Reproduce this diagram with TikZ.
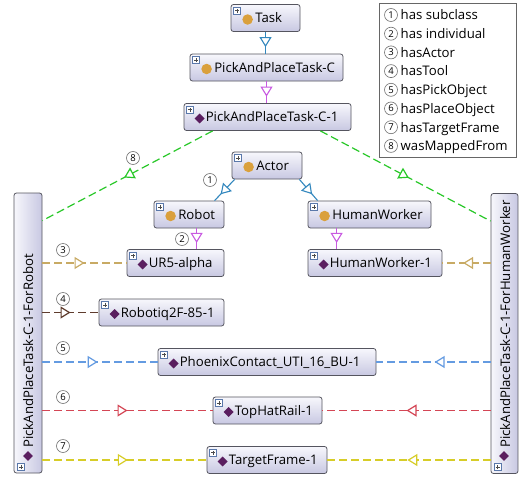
\documentclass[tikz,border=0pt]{standalone}
\usepackage{fontspec}
\setmainfont{Open Sans}
\usetikzlibrary{arrows.meta,decorations.markings,shapes.geometric}
\definecolor{boxtop}{RGB}{247,247,252}
\definecolor{boxbot}{RGB}{200,200,226}
\definecolor{boxline}{RGB}{85,85,95}
\definecolor{plusc}{RGB}{90,120,170}
\definecolor{clsc}{RGB}{218,160,60}
\definecolor{indc}{RGB}{90,30,95}
\definecolor{subc}{RGB}{50,135,190}
\definecolor{indv}{RGB}{200,90,225}
\definecolor{actc}{RGB}{200,170,100}
\definecolor{toolc}{RGB}{95,60,45}
\definecolor{pickc}{RGB}{100,155,225}
\definecolor{placec}{RGB}{212,70,85}
\definecolor{tgtc}{RGB}{215,205,40}
\definecolor{mapc}{RGB}{40,200,40}
\tikzset{
 obox/.style={rectangle, rounded corners=2.5pt, draw=boxline, line width=0.8pt, top color=boxtop, bottom color=boxbot, minimum height=27pt, inner sep=0pt},
 vbox/.style={obox, left color=boxtop, right color=boxbot, minimum width=28pt, minimum height=280pt},
 pbox/.style={rectangle, draw=plusc, fill=white, line width=0.5pt, minimum size=7pt, inner sep=0pt,
   path picture={\draw[black!70, line width=0.5pt] ([xshift=-2pt]path picture bounding box.center) -- ([xshift=2pt]path picture bounding box.center) ([yshift=-2pt]path picture bounding box.center) -- ([yshift=2pt]path picture bounding box.center);}},
 clsicon/.style={circle, fill=clsc, minimum size=10.5pt, inner sep=0pt},
 indicon/.style={diamond, fill=indc, minimum size=10pt, inner sep=0pt},
 lbl/.style={inner sep=0pt, font=\fontsize{13.2}{15}\selectfont},
 cnum/.style={circle, draw=black!55, line width=0.6pt, minimum size=13pt, inner sep=0pt, font=\fontsize{9.5}{10}\selectfont},
 Tri/.tip={Triangle[length=10pt,width=12pt,fill=white]},
 midarr/.style={postaction={decorate}, decoration={markings, mark=at position #1 with {\arrow{Tri}}}},
 sedge/.style={line width=1.1pt},
 dedge/.style={line width=1.2pt, dash pattern=on 8pt off 4pt},
}
\newcommand\clsnode[5]{%
 \node[obox, minimum width=#4pt] (#1) at (#2,#3) {};
 \node[pbox] (#1p) at ([xshift=6.5pt,yshift=-6.5pt]#1.north west) {};
 \node[clsicon] (#1i) at ([xshift=17pt,yshift=-1.5pt]#1.west) {};
 \node[lbl, anchor=base west] (#1t) at ([xshift=24.5pt,yshift=-4.8pt]#1.west) {#5};
}
\newcommand\indnode[5]{%
 \node[obox, minimum width=#4pt] (#1) at (#2,#3) {};
 \node[pbox] (#1p) at ([xshift=6.5pt,yshift=-6.5pt]#1.north west) {};
 \node[indicon] (#1i) at ([xshift=16pt,yshift=-1.5pt]#1.west) {};
 \node[lbl, anchor=base west] (#1t) at ([xshift=22pt,yshift=-4.8pt]#1.west) {#5};
}
\begin{document}
\begin{tikzpicture}[x=1pt,y=-1pt]
\fill[white] (0,0) rectangle (519,479);
\useasboundingbox (0,0) rectangle (519,479);

% nodes
\clsnode{task}{265.5}{18}{69}{Task}
\clsnode{pptc}{266.5}{67.5}{153}{PickAndPlaceTask-C}
\indnode{c1}{267.5}{117}{167}{PickAndPlaceTask-C-1}
\clsnode{actor}{267}{165.5}{70}{Actor}
\clsnode{robot}{189}{214.5}{70}{Robot}
\clsnode{hw}{369.5}{214.5}{123}{HumanWorker}
\indnode{ur5}{175.5}{263}{97}{UR5-alpha}
\indnode{hw1}{375}{263}{134}{HumanWorker-1}
\indnode{rq}{161.5}{312.5}{125}{Robotiq2F-85-1}
\indnode{px}{267}{362}{218}{PhoenixContact\_UTI\_16\_BU-1}
\indnode{th}{267.5}{410.5}{109}{TopHatRail-1}
\indnode{tf}{267}{460}{120}{TargetFrame-1}

% vertical nodes
\node[vbox] (vl) at (28,333) {};
\node[pbox] (vlp) at (21,467) {};
\node[indicon] (vli) at (28,456) {};
\node[lbl, rotate=90, anchor=base west] (vlt) at (33,448) {PickAndPlaceTask-C-1-ForRobot};
\node[vbox, minimum width=27pt] (vr) at (504.5,333.5) {};
\node[pbox] (vrp) at (497.5,467) {};
\node[indicon] (vri) at (504,456) {};
\node[lbl, rotate=90, anchor=base west] (vrt) at (510,448) {PickAndPlaceTask-C-1-ForHumanWorker};

% subclass / individual edges
\draw[sedge, subc, midarr=0.7] (task.south) -- (task.south |- pptc.north);
\draw[sedge, indv, midarr=0.7] (pptc.south) -- (pptc.south |- c1.north);
\coordinate (a1) at ([xshift=3pt]actor.south west);
\coordinate (r1) at ([xshift=61pt]robot.north west);
\draw[sedge, subc, midarr=0.7] (a1) -- (r1);
\coordinate (a2) at ([xshift=-3pt]actor.south east);
\coordinate (h1) at ([xshift=10pt]hw.north west);
\draw[sedge, subc, midarr=0.7] (a2) -- (h1);
\coordinate (r2) at ([xshift=43pt]robot.south west);
\draw[sedge, indv, midarr=0.7] (r2) -- (r2 |- ur5.north);
\coordinate (h2) at ([xshift=29pt]hw.south west);
\draw[sedge, indv, midarr=0.7] (h2) -- (h2 |- hw1.north);

% wasMappedFrom
\coordinate (gl0) at ([xshift=29pt]c1.south west);
\coordinate (gl1) at ([yshift=-28pt]vl.north east);
\draw[dedge, mapc, midarr=0.52] (gl0) -- (gl1);
\coordinate (gr0) at ([xshift=-31pt]c1.south east);
\coordinate (gr1) at ([yshift=-28pt]vr.north west);
\draw[dedge, mapc, midarr=0.52] (gr0) -- (gr1);

% property edges
\draw[dedge, actc, midarr=0.5] (vl.east |- ur5.west) -- (ur5.west);
\draw[dedge, actc, midarr=0.57] (vr.west |- hw1.east) -- (hw1.east);
\draw[dedge, toolc, midarr=0.5] (vl.east |- rq.west) -- (rq.west);
\draw[dedge, pickc, midarr=0.48] (vl.east |- px.west) -- (px.west);
\draw[dedge, pickc, midarr=0.49] (vr.west |- px.east) -- (px.east);
\draw[dedge, placec, midarr=0.5] (vl.east |- th.west) -- (th.west);
\draw[dedge, placec, midarr=0.5] (vr.west |- th.east) -- (th.east);
\draw[dedge, tgtc, midarr=0.52] (vl.east |- tf.west) -- (tf.west);
\draw[dedge, tgtc, midarr=0.51] (vr.west |- tf.east) -- (tf.east);

% edge labels
\node[cnum] (n8) at (133,158) {8};
\node[cnum] (n1) at (210,180) {1};
\node[cnum] (n2) at (182,239) {2};
\node[cnum] (n3) at (63,250) {3};
\node[cnum] (n4) at (63,299) {4};
\node[cnum] (n5) at (63,348) {5};
\node[cnum] (n6) at (63,397) {6};
\node[cnum] (n7) at (63,446) {7};

% legend
\node[rectangle, draw=black!60, line width=0.6pt, minimum width=137pt, minimum height=154pt, inner sep=0pt, anchor=north west] (legend) at (379,3) {};
\foreach \i/\t in {1/has subclass, 2/has individual, 3/hasActor, 4/hasTool, 5/hasPickObject, 6/hasPlaceObject, 7/hasTargetFrame, 8/wasMappedFrom}{
  \node[cnum] (ln\i) at (391,{15+18.7*(\i-1)}) {\i};
  \node[lbl, anchor=base west] (lt\i) at (400.5,{19.8+18.7*(\i-1)}) {\t};
}
\end{tikzpicture}
\end{document}
